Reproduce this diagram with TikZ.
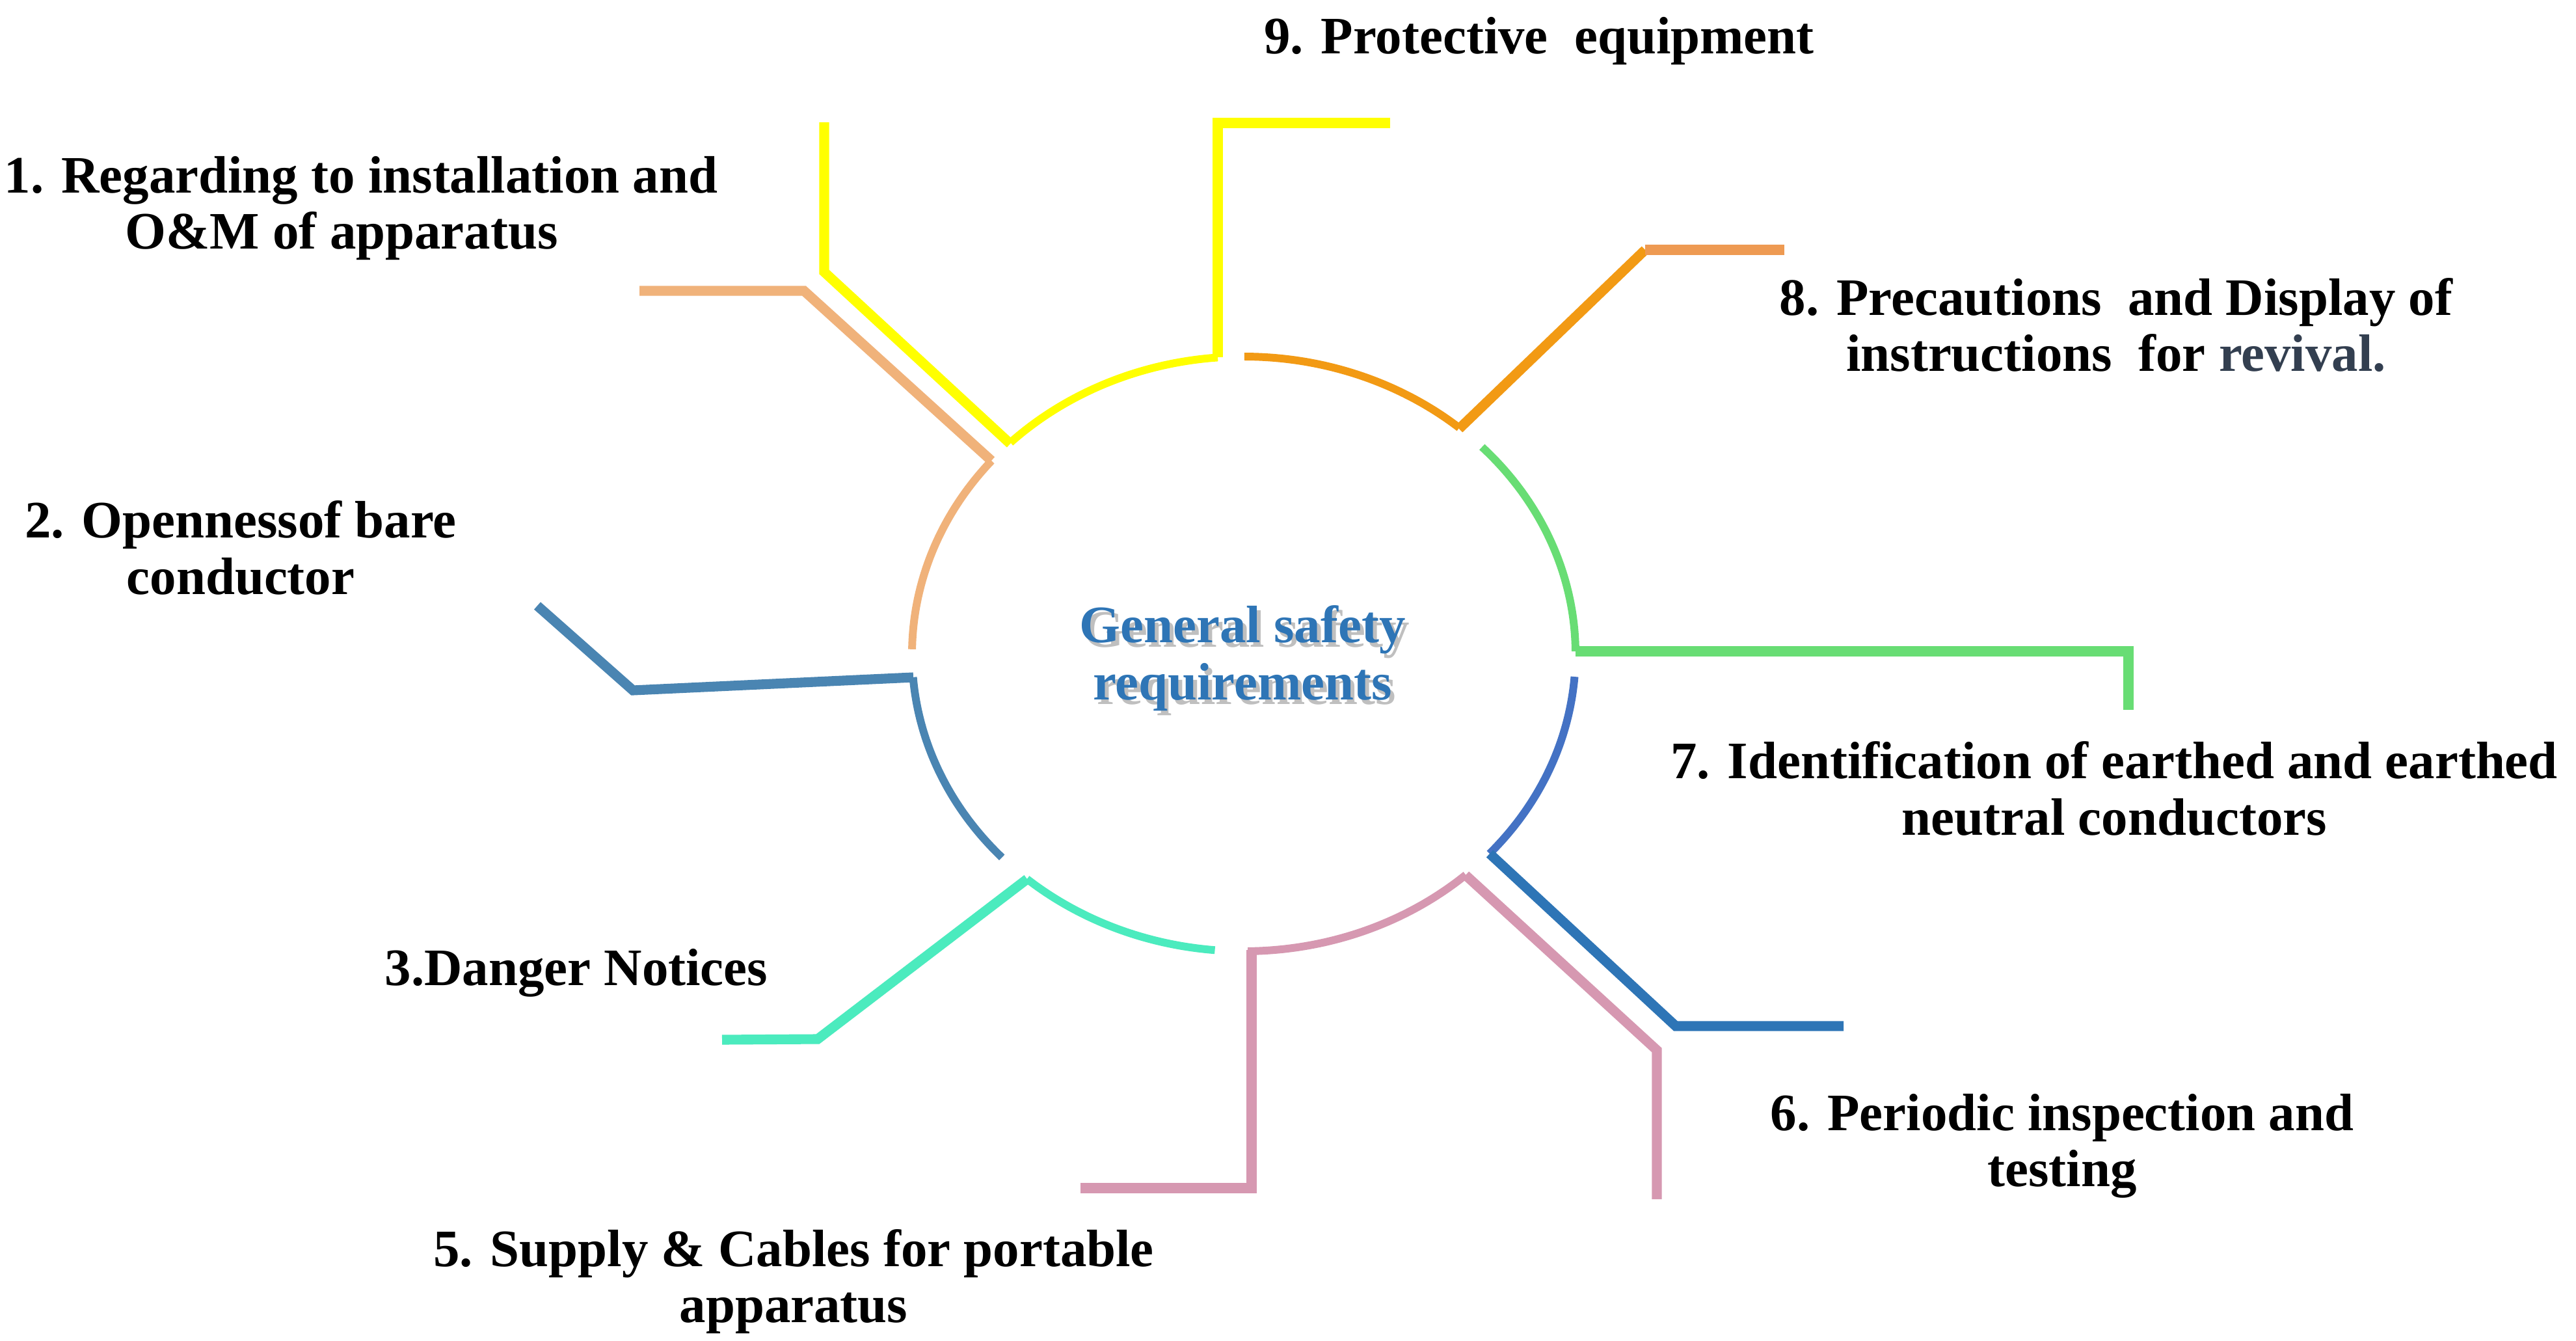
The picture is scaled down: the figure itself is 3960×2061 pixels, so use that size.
\documentclass[tikz,border=0pt]{standalone}
\usepackage{fontspec}
\setmainfont{Liberation Serif}
\usetikzlibrary{calc}
\definecolor{cpeach}{HTML}{F0B27A}
\definecolor{cyellow}{HTML}{FFFF00}
\definecolor{corange}{HTML}{F29A14}
\definecolor{corangeh}{HTML}{EE9A52}
\definecolor{cgreen}{HTML}{68DD74}
\definecolor{cblue}{HTML}{4472C4}
\definecolor{cbluel}{HTML}{2E75B6}
\definecolor{cpink}{HTML}{D698B1}
\definecolor{ccyan}{HTML}{4BEBBE}
\definecolor{csteel}{HTML}{4A85B2}
\definecolor{ctitle}{HTML}{2E75B6}
\definecolor{crev}{HTML}{333F50}
\begin{document}
\begin{tikzpicture}[x=0.01cm,y=0.01cm,
  lbl/.style={font=\bfseries\fontsize{23}{24.5}\selectfont, align=center, inner sep=0pt, text=black},
  arcline/.style={line width=3.4pt, line cap=butt},
  leader/.style={line width=4.3pt, line join=miter, line cap=butt}]
\useasboundingbox[fill=white] (0,0) rectangle (3960,-2061);
\coordinate (C) at (1912,-1005);

% centre title with shadow
\node[font=\bfseries\fontsize{23}{25}\selectfont, align=center, inner sep=0pt, text=black!25] (tshadow) at (1916,-1019) {General safety\\requirements};
\node[font=\bfseries\fontsize{23}{25}\selectfont, align=center, inner sep=0pt, text=ctitle] (title) at (1910,-1012) {General safety\\requirements};

% labels
\node[lbl] (l9) at (2366,-63) {9. Protective\ \ equipment};
\node[lbl] (l1) at (555,-320) {1. Regarding to installation and\\O\&M of apparatus\hspace*{17pt}};
\node[lbl] (l8) at (3253,-500) {8. Precautions\ \ and Display of\\instructions\ \ for \textcolor{crev}{revival.}};
\node[lbl] (l2) at (370,-842) {2. Opennessof bare\\conductor};
\node[lbl] (l7) at (3250,-1212) {7. Identification of earthed and earthed\\neutral conductors};
\node[lbl] (l3) at (886,-1495) {3.Danger\ Notices};
\node[lbl] (l6) at (3170,-1761) {6. Periodic inspection and\\testing};
\node[lbl] (l5) at (1220,-1970) {5. Supply \& Cables\ for portable\\apparatus};

% arc segments of the ring
\draw[arcline, cpeach] plot[domain=179.1:139.5, samples=60, variable=\t] ({1912+510*cos(\t)},{-1005+457*sin(\t)});
\draw[arcline, cyellow] plot[domain=134.7:94.5, samples=60, variable=\t] ({1912+510*cos(\t)},{-1005+457*sin(\t)});
\draw[arcline, corange] plot[domain=89.9:49.5, samples=60, variable=\t] ({1912+510*cos(\t)},{-1005+457*sin(\t)});
\draw[arcline, cgreen] plot[domain=44.1:0.5, samples=60, variable=\t] ({1912+510*cos(\t)},{-1005+457*sin(\t)});
\draw[arcline, cblue] plot[domain=-4.4:-42.2, samples=60, variable=\t] ({1912+510*cos(\t)},{-1005+457*sin(\t)});
\draw[arcline, cpink] plot[domain=-48:-89.3, samples=60, variable=\t] ({1912+510*cos(\t)},{-1005+457*sin(\t)});
\draw[arcline, ccyan] plot[domain=-95:-130.8, samples=60, variable=\t] ({1912+510*cos(\t)},{-1005+457*sin(\t)});
\draw[arcline, csteel] plot[domain=-136.8:-175.5, samples=60, variable=\t] ({1912+510*cos(\t)},{-1005+457*sin(\t)});

% leader points
\coordinate (p1s) at (1524,-708);  \coordinate (p1k) at (1236,-447); \coordinate (p1e) at (983,-447);
\coordinate (y1s) at (1553,-682);  \coordinate (y1k) at (1267,-418); \coordinate (y1e) at (1267,-188);
\coordinate (y2s) at (1872,-549);  \coordinate (y2k) at (1872,-189); \coordinate (y2e) at (2137,-189);
\coordinate (o8s) at (2243,-659);  \coordinate (o8k) at (2529,-384); \coordinate (o8e) at (2743,-384);
\coordinate (g7s) at (2422,-1001); \coordinate (g7k) at (3272,-1001); \coordinate (g7e) at (3272,-1091);
\coordinate (b6s) at (2290,-1312); \coordinate (b6k) at (2576,-1577); \coordinate (b6e) at (2834,-1577);
\coordinate (k1s) at (2253,-1345); \coordinate (k1k) at (2547,-1614); \coordinate (k1e) at (2547,-1843);
\coordinate (k2s) at (1924,-1460); \coordinate (k2k) at (1924,-1826); \coordinate (k2e) at (1661,-1826);
\coordinate (c3s) at (1579,-1351); \coordinate (c3k) at (1257,-1597); \coordinate (c3e) at (1110,-1598);
\coordinate (s2s) at (1404,-1041); \coordinate (s2k) at (973,-1061);  \coordinate (s2e) at (826,-931);

% leaders
\draw[leader, cpeach] (p1s) -- (p1k) -- (p1e);
\draw[leader, cyellow] (y1s) -- (y1k) -- (y1e);
\draw[leader, cyellow] (y2s) -- (y2k) -- (y2e);
\draw[leader, corange] (o8s) -- (o8k);
\draw[leader, corangeh] (o8k) -- (o8e);
\draw[leader, cgreen] (g7s) -- (g7k) -- (g7e);
\draw[leader, cbluel] (b6s) -- (b6k) -- (b6e);
\draw[leader, cpink] (k1s) -- (k1k) -- (k1e);
\draw[leader, cpink] (k2s) -- (k2k) -- (k2e);
\draw[leader, ccyan] (c3s) -- (c3k) -- (c3e);
\draw[leader, csteel] (s2s) -- (s2k) -- (s2e);
\end{tikzpicture}
\end{document}
